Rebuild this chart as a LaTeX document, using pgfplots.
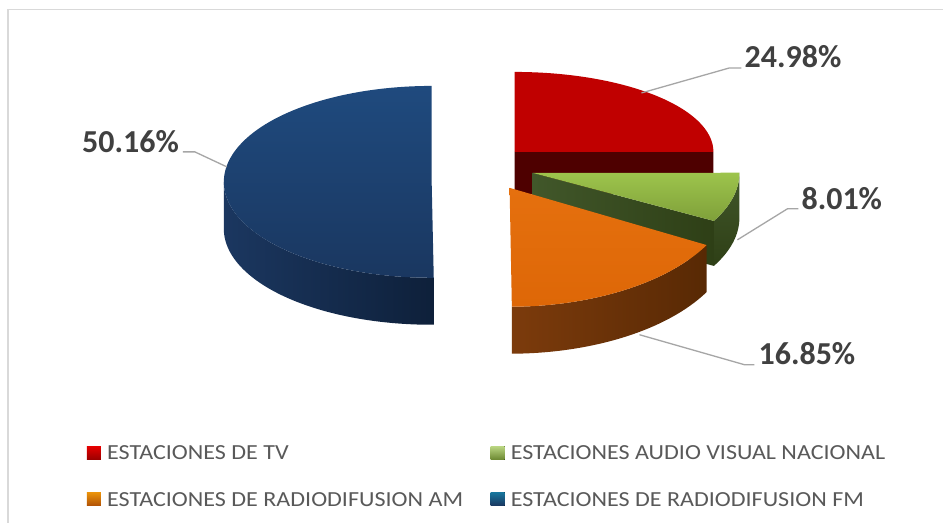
\documentclass[border=0pt]{standalone}
\usepackage{pgfplots}
\pgfplotsset{compat=1.18}
\usepackage{pgfplotstable}
\usepackage{fontspec}
\setmainfont{Carlito}
\newfontfamily\legfont[FakeStretch=1.12]{Carlito}

\definecolor{tvTop}{HTML}{C00000}
\definecolor{tvSide}{HTML}{4E0000}
\definecolor{avTopA}{HTML}{9DC44C}
\definecolor{avTopB}{HTML}{7FA03A}
\definecolor{avSideA}{HTML}{41572A}
\definecolor{avSideB}{HTML}{2E3F16}
\definecolor{amTopA}{HTML}{E5700E}
\definecolor{amTopB}{HTML}{DE6707}
\definecolor{amSideA}{HTML}{7C3B0C}
\definecolor{amSideB}{HTML}{582904}
\definecolor{fmTopA}{HTML}{1F4A7E}
\definecolor{fmTopB}{HTML}{1A3760}
\definecolor{fmSideA}{HTML}{1B3760}
\definecolor{fmSideB}{HTML}{0E203A}
\definecolor{labelgray}{HTML}{404040}
\definecolor{leggray}{HTML}{595959}
\definecolor{leadgray}{HTML}{A6A6A6}
\definecolor{framegray}{HTML}{D9D9D9}

% pct = share; cx,cy = apex of the (exploded) slice in pixels (y downward);
% rx,ry = radii of the top face; d = thickness; lx,ly = label position
\pgfplotstableread{
id pct cx cy rx ry d lx ly
0 24.98 515 152 199 80 42 745 68
1 8.01 533 173 207 100 45 802 210
2 16.85 510 188 225 119 47 759 365
3 50.16 432 182 208 96 47 82 152.5
}\piedata

\newcommand\getcell[3]{\pgfplotstablegetelem{#1}{#2}\of\piedata\expandafter\edef\csname #3\endcsname{\pgfplotsretval}}
\newcommand\loadslice[2]{%
  \getcell{#1}{pct}{p#2}\getcell{#1}{cx}{cx#2}\getcell{#1}{cy}{cy#2}%
  \getcell{#1}{rx}{rx#2}\getcell{#1}{ry}{ry#2}\getcell{#1}{d}{d#2}}

% top face: cx cy rx ry a1 a2 style
\newcommand\topface[7]{%
  \path[#7] (axis cs:#1,#2) -- (axis cs:{#1+#3*cos(#5)},{#2-#4*sin(#5)})
    arc[start angle=#5,end angle=#6,x radius=#3bp,y radius=#4bp] -- cycle;}
% outer rim: cx cy rx ry d a1 a2 style
\newcommand\rimface[8]{%
  \path[#8] (axis cs:{#1+#3*cos(#6)},{#2-#4*sin(#6)})
    arc[start angle=#6,end angle=#7,x radius=#3bp,y radius=#4bp]
    -- ++(0,-#5bp)
    arc[start angle=#7,end angle=#6,x radius=#3bp,y radius=#4bp] -- cycle;}
% radial cut face: cx cy rx ry d a style
\newcommand\cutface[7]{%
  \path[#7] (axis cs:#1,#2) -- (axis cs:{#1+#3*cos(#6)},{#2-#4*sin(#6)})
    -- ++(0,-#5bp) -- (axis cs:#1,{#2+#5}) -- cycle;}

\begin{document}
\begin{tikzpicture}
\loadslice{0}{A}\loadslice{1}{B}\loadslice{2}{C}\loadslice{3}{D}
\pgfmathsetmacro\angA{90}
\pgfmathsetmacro\angB{\angA-3.6*\pA}
\pgfmathsetmacro\angC{\angB-3.6*\pB}
\pgfmathsetmacro\angD{\angC-3.6*\pC}
\pgfmathsetmacro\angE{\angD-3.6*\pD}
\begin{axis}[
  width=944bp, height=523bp, scale only axis,
  xmin=0, xmax=944, ymin=0, ymax=523, y dir=reverse,
  enlargelimits=false, hide axis, clip=false,
  /pgf/number format/assume math mode=true,
]
\path[fill=white] (axis cs:0,0) rectangle (axis cs:944,523);
% frame
\draw[framegray, line width=1.5bp] (axis cs:8,523) -- (axis cs:8,9.5) -- (axis cs:944,9.5);

% TV slice (back)
\cutface{\cxA}{\cyA}{\rxA}{\ryA}{\dA}{\angB}{fill=tvSide}
\topface{\cxA}{\cyA}{\rxA}{\ryA}{\angA}{\angB}{fill=tvTop}
% FM slice
\rimface{\cxD}{\cyD}{\rxD}{\ryD}{\dD}{-180}{\angD}{left color=fmSideA, right color=fmSideB}
\topface{\cxD}{\cyD}{\rxD}{\ryD}{\angD}{\angE}{top color=fmTopA, bottom color=fmTopB}
% Audio visual slice
\rimface{\cxB}{\cyB}{\rxB}{\ryB}{\dB}{\angB}{\angC}{top color=avSideA, bottom color=avSideB}
\cutface{\cxB}{\cyB}{\rxB}{\ryB}{\dB}{\angC}{left color=avSideA, right color=avSideB}
\topface{\cxB}{\cyB}{\rxB}{\ryB}{\angB}{\angC}{top color=avTopA, bottom color=avTopB}
% AM slice
\rimface{\cxC}{\cyC}{\rxC}{\ryC}{\dC}{\angC}{\angD}{left color=amSideA, right color=amSideB}
\topface{\cxC}{\cyC}{\rxC}{\ryC}{\angC}{\angD}{top color=amTopA, bottom color=amTopB}

% leader lines
\draw[leadgray, line width=1.3bp] (axis cs:742,68) -- (axis cs:730,68) -- (axis cs:642,93);
\draw[leadgray, line width=1.3bp] (axis cs:183,152) -- (axis cs:195,152) -- (axis cs:227,167);
\draw[leadgray, line width=1.3bp] (axis cs:799,209) -- (axis cs:788,209) -- (axis cs:738,240);
\draw[leadgray, line width=1.3bp] (axis cs:755,365) -- (axis cs:745,365) -- (axis cs:640,335);

% percentage labels from the data
\addplot[draw=none, mark=none, point meta=explicit,
  nodes near coords={\pgfmathprintnumber[fixed,fixed zerofill,precision=2]{\pgfplotspointmeta}\%},
  nodes near coords style={anchor=base west, inner sep=0pt, text=labelgray,
    font=\fontsize{32bp}{36bp}\selectfont\bfseries}]
  table[x=lx, y=ly, meta=pct] {\piedata};

% legend
\begin{scope}[every node/.style={anchor=base west, inner sep=0pt, text=leggray,
    font=\legfont\fontsize{21.5bp}{24bp}\selectfont}]
\fill[top color=red!60!tvTop, bottom color=tvTop!80!black] (axis cs:87,446.5) rectangle (axis cs:101,460);
\node at (axis cs:107,460) {ESTACIONES DE TV};
\fill[top color=avTopA!70!white, bottom color=avTopB!85!black] (axis cs:491,446.5) rectangle (axis cs:505,460);
\node at (axis cs:511,460) {ESTACIONES AUDIO VISUAL NACIONAL};
\fill[top color=amTopA!75!yellow, bottom color=amTopB!80!black] (axis cs:87,492.5) rectangle (axis cs:101,506);
\node at (axis cs:107,506.5) {ESTACIONES DE RADIODIFUSION AM};
\fill[top color=fmTopA!75!cyan, bottom color=fmTopB] (axis cs:491,492.5) rectangle (axis cs:505,506);
\node at (axis cs:511,506.5) {ESTACIONES DE RADIODIFUSION FM};
\end{scope}
\end{axis}
\end{tikzpicture}
\end{document}
